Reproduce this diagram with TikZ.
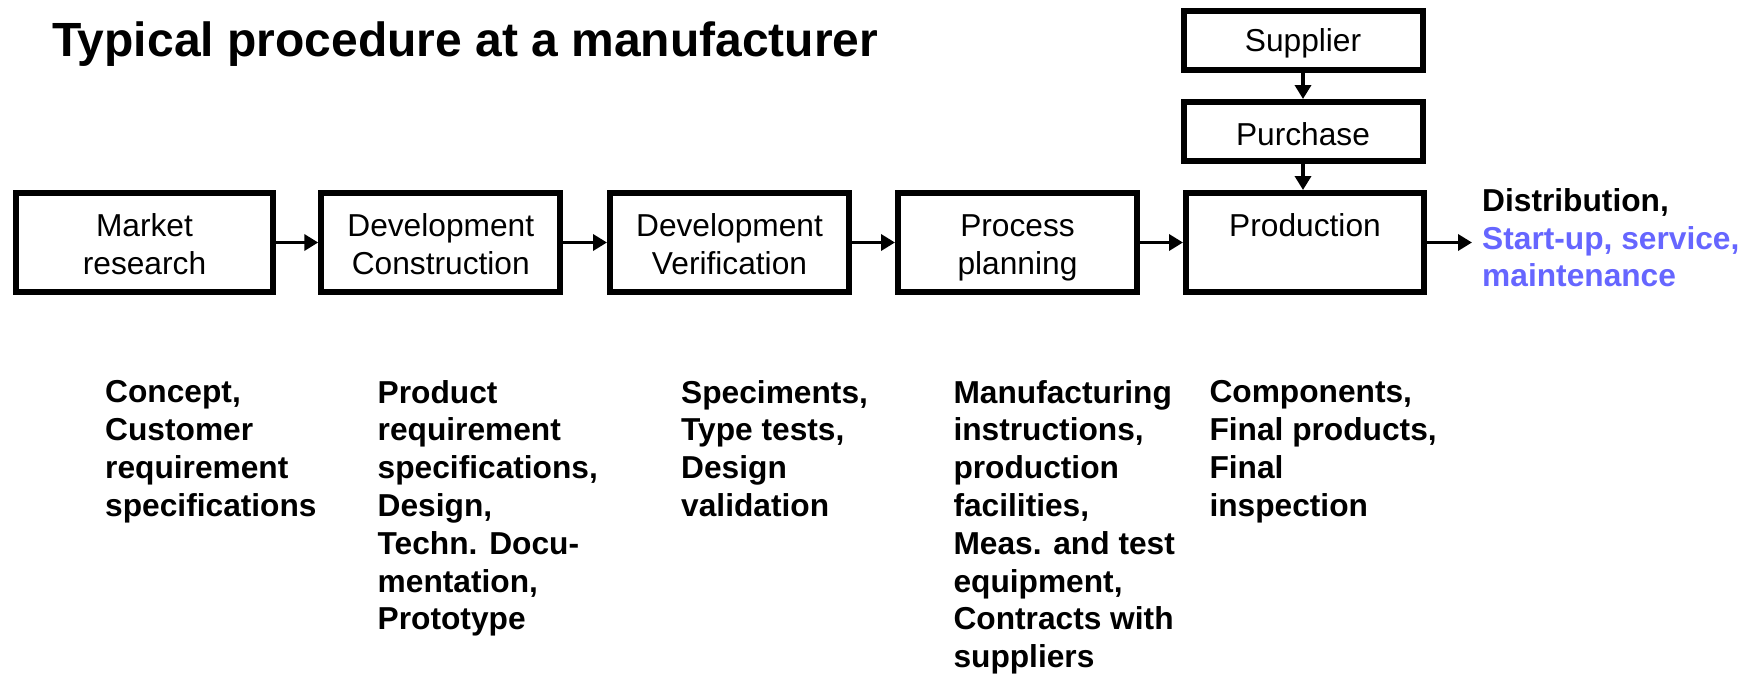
\documentclass[tikz,border=0pt]{standalone}
\usepackage{fontspec}
\setmainfont{Liberation Sans}
\usetikzlibrary{arrows.meta}
\definecolor{distblue}{RGB}{102,102,255}
\newcommand{\bxs}{\rule{0pt}{32.5pt}}
\newcommand{\bxe}{\rule[-7pt]{0pt}{7pt}}
\newcommand{\sgs}{\rule{0pt}{29pt}}
\newcommand{\nts}{\rule[-3.5pt]{0pt}{26pt}}
\begin{document}
\begin{tikzpicture}[x=1pt,y=-1pt,
  box/.style={draw=black, line width=6pt, inner sep=0pt, align=center,
    font=\fontsize{31.7}{37.5}\selectfont, minimum height=99pt, minimum width=239pt},
  smallbox/.style={box, minimum height=59pt},
  flow/.style={line width=3.5pt, -{Triangle[length=14pt,width=16pt]}},
  note/.style={anchor=north west, inner sep=0pt, align=left,
    font=\fontsize{31.7}{37.8}\selectfont\bfseries},
]
\useasboundingbox (0,0) rectangle (1751,677);
\node[anchor=base west, inner sep=0pt, font=\fontsize{48}{58}\selectfont\bfseries] (title) at (52,56.5) {Typical procedure at a manufacturer};

\node[box, minimum width=257pt] (market) at (144.5,242.5) {\bxs Market\\research\bxe};
\node[box] (devcon) at (440.75,242.5) {\bxs Development\\Construction\bxe};
\node[box] (devver) at (729.5,242.5) {\bxs Development\\Verification\bxe};
\node[box] (process) at (1017.5,242.5) {\bxs Process\\planning\bxe};
\node[box, minimum width=238pt] (production) at (1305,242.5) {\bxs Production\\\bxe};
\node[smallbox] (supplier) at (1303,40.5) {\sgs Supplier};
\node[smallbox] (purchase) at (1303,131.5) {\sgs Purchase};
\coordinate (distend) at (1472,242.5);

\draw[flow] (market) -- (devcon);
\draw[flow] (devcon) -- (devver);
\draw[flow] (devver) -- (process);
\draw[flow] (process) -- (production);
\draw[flow] (production) -- (distend);
\draw[flow] (supplier) -- (purchase);
\draw[flow] (purchase.south) -- (purchase.south |- production.north);

\node[note, font=\fontsize{31.7}{37.5}\selectfont\bfseries] (dist) at (1482,188.7) {\nts Distribution,\\\textcolor{distblue}{Start-up, service,}\\\textcolor{distblue}{maintenance}};

\node[note] (n1) at (105,380) {\nts Concept,\\Customer\\requirement\\specifications};
\node[note] (n2) at (377.5,380) {\nts Product\\requirement\\specifications,\\Design,\\Techn. Docu-\\mentation,\\Prototype};
\node[note] (n3) at (681,380) {\nts Speciments,\\Type tests,\\Design\\validation};
\node[note] (n4) at (953.3,380) {\nts Manufacturing\\instructions,\\production\\facilities,\\Meas. and test\\equipment,\\Contracts with\\suppliers};
\node[note] (n5) at (1209.3,380) {\nts Components,\\Final products,\\Final\\inspection};
\end{tikzpicture}
\end{document}
